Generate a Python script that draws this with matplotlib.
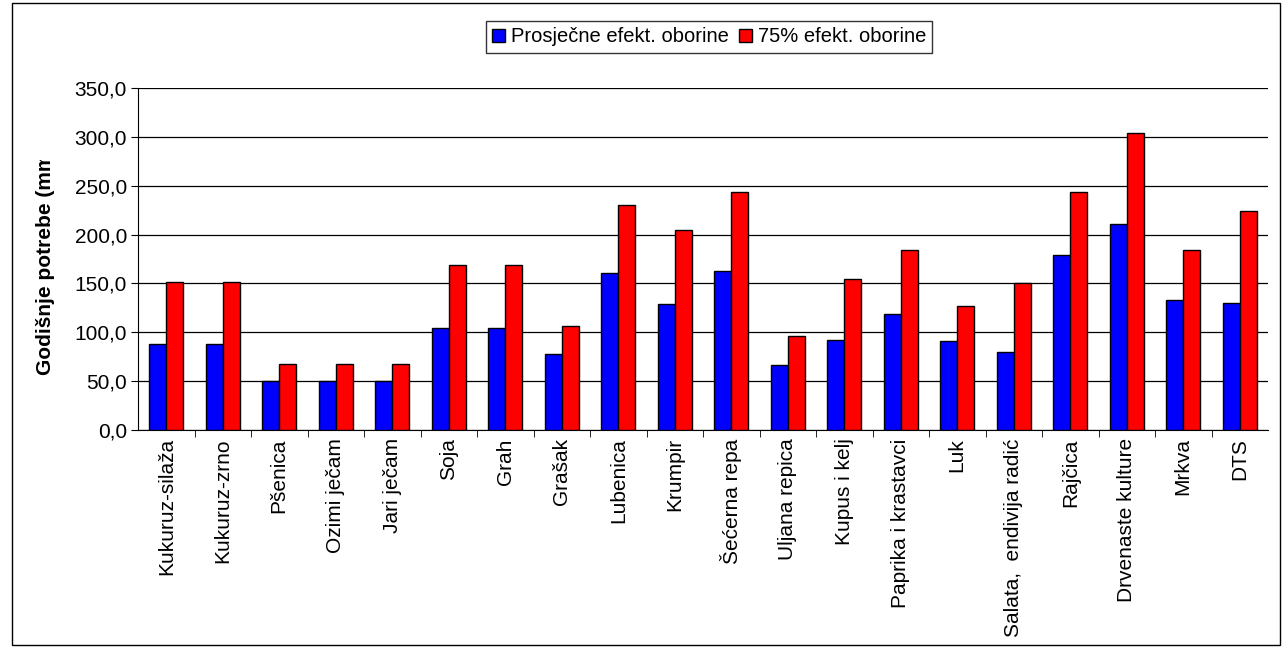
import numpy as np
import matplotlib
matplotlib.use('Agg')
import matplotlib.pyplot as plt
from matplotlib.ticker import FuncFormatter, FixedLocator
from matplotlib.patches import Rectangle

plt.rcParams['font.family'] = ['Liberation Sans', 'DejaVu Sans']

# podaci
kulture = ['Kukuruz-silaža', 'Kukuruz-zrno', 'Pšenica', 'Ozimi ječam', 'Jari ječam',
           'Soja', 'Grah', 'Grašak', 'Lubenica', 'Krumpir', 'Šećerna repa',
           'Uljana repica', 'Kupus i kelj', 'Paprika i krastavci', 'Luk',
           'Salata,  endivija radić', 'Rajčica', 'Drvenaste kulture', 'Mrkva', 'DTS']
prosjecne = [88, 88, 50, 50, 50, 104, 104, 78, 161, 129, 163,
             67, 92, 119, 91, 80, 179, 211, 133, 130]
oborine_75 = [151, 151, 68, 68, 68, 169, 169, 106, 230, 205, 244,
              96, 155, 184, 127, 150, 244, 304, 184, 224]

W, H = 1284, 648
fig = plt.figure(figsize=(W / 100, H / 100), dpi=100)
fig.patches.append(Rectangle((12 / W, 3 / H), 1268 / W, 642 / H,
                             transform=fig.transFigure, fill=False,
                             edgecolor='black', linewidth=1.0))
ax = fig.add_axes([138 / W, 218 / H, 1130 / W, 342 / H])

x = np.arange(len(kulture))
w = 0.3
b1 = ax.bar(x - w / 2, prosjecne, w, color='#0000FF', edgecolor='black',
            linewidth=1.0, label='Prosječne efekt. oborine', zorder=3)
b2 = ax.bar(x + w / 2, oborine_75, w, color='#FF0000', edgecolor='black',
            linewidth=1.0, label='75% efekt. oborine', zorder=3)

ax.set_xlim(-0.5, len(kulture) - 0.5)
ax.set_ylim(0, 350)
ax.set_yticks(np.arange(0, 351, 50))
ax.yaxis.set_major_formatter(FuncFormatter(lambda v, p: f'{v:.1f}'.replace('.', ',')))
ax.yaxis.grid(True, color='black', linewidth=0.9, zorder=0)

# oznake kategorija i crtice između grupa
ax.set_xticks(x)
ax.set_xticklabels(kulture, rotation=90, fontsize=15)
ax.tick_params(axis='x', length=0, pad=6)
ax.xaxis.set_minor_locator(FixedLocator(np.arange(0.5, len(kulture) - 0.5, 1)))
ax.tick_params(axis='x', which='minor', length=5, direction='out', color='black')
ax.tick_params(axis='y', length=5, direction='out', labelsize=15, color='black', pad=3)

for s in ['top', 'right']:
    ax.spines[s].set_visible(False)
ax.spines['left'].set_color('black')
ax.spines['bottom'].set_color('black')

# naslov osi y, odrezan na vrhu kao u originalu
fig.text(46 / W, 1 - 375 / H, 'Godišnje potrebe (mm)', rotation=90,
         ha='center', va='bottom', fontsize=15, fontweight='bold')
fig.patches.append(Rectangle((22 / W, 1 - 160 / H), 45 / W, 100 / H,
                             transform=fig.transFigure, facecolor='white',
                             edgecolor='none', zorder=10))

leg = fig.legend(handles=[b1, b2], loc='center', bbox_to_anchor=(709 / W, 1 - 37 / H),
                 ncol=2, fontsize=14.5, frameon=True, fancybox=False, edgecolor='black',
                 handlelength=0.65, handleheight=0.65, handletextpad=0.3,
                 columnspacing=0.5, borderpad=0.3, borderaxespad=0)
leg.get_frame().set_linewidth(1.0)

fig.savefig('out.png', dpi=100)
